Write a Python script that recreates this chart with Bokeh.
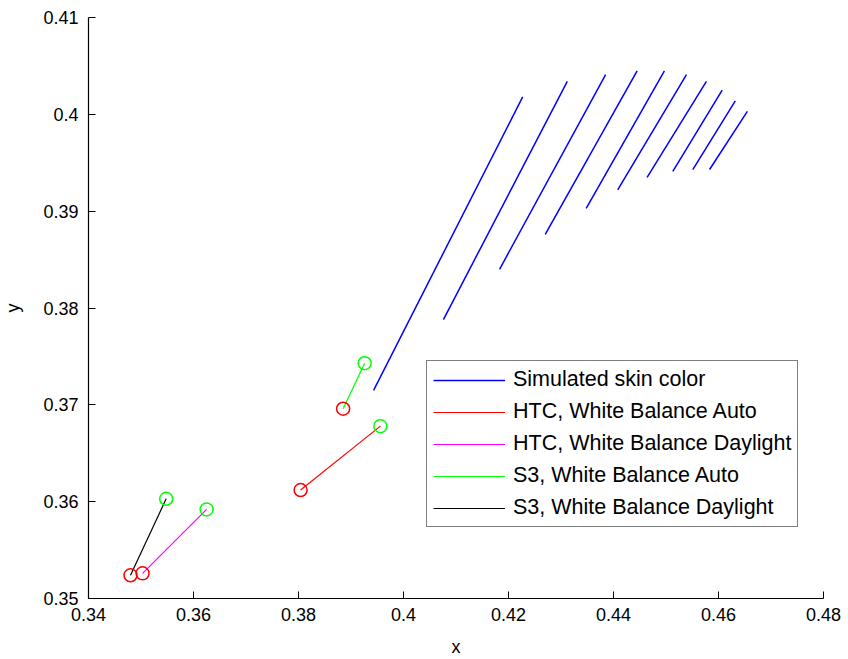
from bokeh.plotting import figure
from bokeh.models import Range1d, FixedTicker, Legend, LegendItem
from bokeh.embed import file_html
from bokeh.resources import INLINE

# ---- data ----
x_ticks = [0.34, 0.36, 0.38, 0.40, 0.42, 0.44, 0.46, 0.48]
x_tick_labels = ["0.34", "0.36", "0.38", "0.4", "0.42", "0.44", "0.46", "0.48"]
y_ticks = [0.35, 0.36, 0.37, 0.38, 0.39, 0.40, 0.41]
y_tick_labels = ["0.35", "0.36", "0.37", "0.38", "0.39", "0.4", "0.41"]

# simulated skin colour curves (start / end points)
skin_x0 = [0.3943, 0.4076, 0.4183, 0.4270, 0.4348, 0.4408, 0.4464, 0.4513, 0.4551, 0.4583]
skin_y0 = [0.3715, 0.3788, 0.3840, 0.3876, 0.3903, 0.3922, 0.3935, 0.3941, 0.3943, 0.3943]
skin_x1 = [0.4227, 0.4312, 0.4385, 0.4445, 0.4497, 0.4539, 0.4577, 0.4607, 0.4632, 0.4655]
skin_y1 = [0.4018, 0.4034, 0.4041, 0.4045, 0.4045, 0.4041, 0.4034, 0.4025, 0.4014, 0.4003]

# camera measurements: [measured (red circle), reference (green circle)]
htc_auto_x = [0.3804, 0.3956]
htc_auto_y = [0.3612, 0.3678]
htc_day_x = [0.3503, 0.3625]
htc_day_y = [0.3526, 0.3592]
s3_auto_x = [0.3885, 0.3926]
s3_auto_y = [0.3696, 0.3743]
s3_day_x = [0.3480, 0.3548]
s3_day_y = [0.3524, 0.3603]

series_names = ["Simulated skin color", "HTC, White Balance Auto",
                "HTC, White Balance Daylight", "S3, White Balance Auto",
                "S3, White Balance Daylight"]

FONT = "Liberation Sans"

p = figure(width=848, height=659, output_backend="svg", toolbar_location=None,
           x_range=Range1d(0.34, 0.48), y_range=Range1d(0.35, 0.41),
           min_border_left=88, min_border_right=25, min_border_top=17,
           min_border_bottom=60)
p.outline_line_color = None
p.xgrid.visible = False
p.ygrid.visible = False
p.background_fill_color = "white"
p.border_fill_color = "white"

for ax, ticks, labels in ((p.xaxis[0], x_ticks, x_tick_labels),
                          (p.yaxis[0], y_ticks, y_tick_labels)):
    ax.ticker = FixedTicker(ticks=ticks)
    ax.major_label_overrides = {t: l for t, l in zip(ticks, labels)}
    ax.major_tick_in = 7
    ax.major_tick_out = 0
    ax.minor_tick_line_color = None
    ax.axis_line_color = "black"
    ax.axis_line_width = 1.2
    ax.major_tick_line_color = "black"
    ax.major_label_text_font = FONT
    ax.major_label_text_font_size = "18px"
    ax.major_label_text_color = "black"
    ax.axis_label_text_font = FONT
    ax.axis_label_text_font_size = "18px"
    ax.axis_label_text_font_style = "normal"
    ax.axis_label_text_color = "black"

p.xaxis.axis_label = "x"
p.yaxis.axis_label = "y"
p.xaxis.major_label_standoff = 9
p.xaxis.axis_label_standoff = 13
p.yaxis.major_label_standoff = 10
p.yaxis.axis_label_standoff = 17

skin_xs = [[a, b] for a, b in zip(skin_x0, skin_x1)]
skin_ys = [[a, b] for a, b in zip(skin_y0, skin_y1)]
r_skin = p.multi_line(skin_xs, skin_ys, line_color="#0000ff", line_width=1.5)

r_ha = p.line(htc_auto_x, htc_auto_y, line_color="#ff0000", line_width=1.2)
r_hd = p.line(htc_day_x, htc_day_y, line_color="#ff00ff", line_width=1.2)
r_sa = p.line(s3_auto_x, s3_auto_y, line_color="#00ff00", line_width=1.2)
r_sd = p.line(s3_day_x, s3_day_y, line_color="#000000", line_width=1.2)

all_x = [htc_auto_x, htc_day_x, s3_auto_x, s3_day_x]
all_y = [htc_auto_y, htc_day_y, s3_auto_y, s3_day_y]
p.scatter([s[0] for s in all_x], [s[0] for s in all_y], marker="circle", size=13,
          fill_color=None, line_color="#ff0000", line_width=1.5)
p.scatter([s[1] for s in all_x], [s[1] for s in all_y], marker="circle", size=13,
          fill_color=None, line_color="#00ff00", line_width=1.5)

legend = Legend(items=[LegendItem(label=n, renderers=[r]) for n, r in
                       zip(series_names, [r_skin, r_ha, r_hd, r_sa, r_sd])],
                location=(338, 71))
legend.label_text_font = FONT
legend.label_text_font_size = "21.5px"
legend.label_text_color = "black"
legend.glyph_width = 72
legend.glyph_height = 20
legend.label_height = 20
legend.label_standoff = 8
legend.spacing = 7
legend.padding = 6
legend.margin = 0
legend.border_line_color = "black"
legend.border_line_width = 1
legend.background_fill_alpha = 1
p.add_layout(legend)

open("out.html", "w").write(file_html(p, INLINE))
